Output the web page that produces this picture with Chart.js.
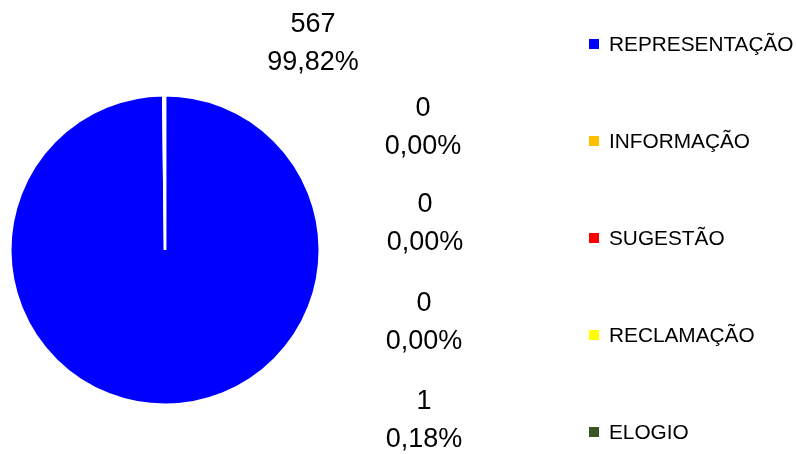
<!DOCTYPE html>
<html>
<head>
<meta charset="utf-8">
<script src="https://cdn.jsdelivr.net/npm/chart.js@4/dist/chart.umd.min.js"></script>
<style>
    body { margin: 0; background: #fff; }
    #wrap { width: 796px; height: 454px; }
</style>
</head>
<body>
<div id="wrap"><canvas id="pieChart" width="796" height="454"></canvas></div>
<script>
// Chart data
const categories = ['REPRESENTAÇÃO', 'INFORMAÇÃO', 'SUGESTÃO', 'RECLAMAÇÃO', 'ELOGIO'];
const counts = [567, 0, 0, 0, 1];
const percentLabels = ['99,82%', '0,00%', '0,00%', '0,00%', '0,18%'];
const sliceColors = ['#0000ff', '#ffc000', '#ff0000', '#ffff00', '#375623'];

const FONT = "'Liberation Sans', Arial, sans-serif";

// Data labels + legend drawn by hand (Excel style)
const excelLabels = {
    id: 'excelLabels',
    afterDraw(chart) {
        const ctx = chart.ctx;
        const arc = chart.getDatasetMeta(0).data[0];
        const cx = arc.x, cy = arc.y;

        // value labels: first one above the pie, rest in a column on the right
        const spots = [
            [148, -225], [258, -141], [260, -45], [259, 54], [259, 152]
        ];
        ctx.save();
        ctx.fillStyle = '#000';
        ctx.font = '27px ' + FONT;
        ctx.textAlign = 'center';
        ctx.textBaseline = 'middle';
        counts.forEach((v, i) => {
            const x = cx + spots[i][0];
            const y = cy + spots[i][1];
            ctx.fillText(String(v), x, y);
            ctx.fillText(percentLabels[i], x, y + 38);
        });

        // legend
        ctx.font = '20.8px ' + FONT;
        ctx.textAlign = 'left';
        categories.forEach((c, i) => {
            const y = 44 + i * 97;
            ctx.fillStyle = sliceColors[i];
            ctx.fillRect(589, y - 5, 10, 10);
            ctx.fillStyle = '#000';
            ctx.fillText(c, 609, y + 1);
        });
        ctx.restore();
    }
};

const pieCtx = document.getElementById('pieChart').getContext('2d');
const pieChart = new Chart(pieCtx, {
    type: 'pie',
    data: {
        labels: categories,
        datasets: [{
            data: counts,
            backgroundColor: sliceColors,
            borderColor: '#fff',
            borderWidth: 2.5
        }]
    },
    options: {
        responsive: false,
        animation: false,
        layout: {
            padding: { left: 9, top: 94, right: 475, bottom: 48 }
        },
        plugins: {
            legend: { display: false },
            tooltip: { enabled: false }
        }
    },
    plugins: [excelLabels]
});
</script>
</body>
</html>
